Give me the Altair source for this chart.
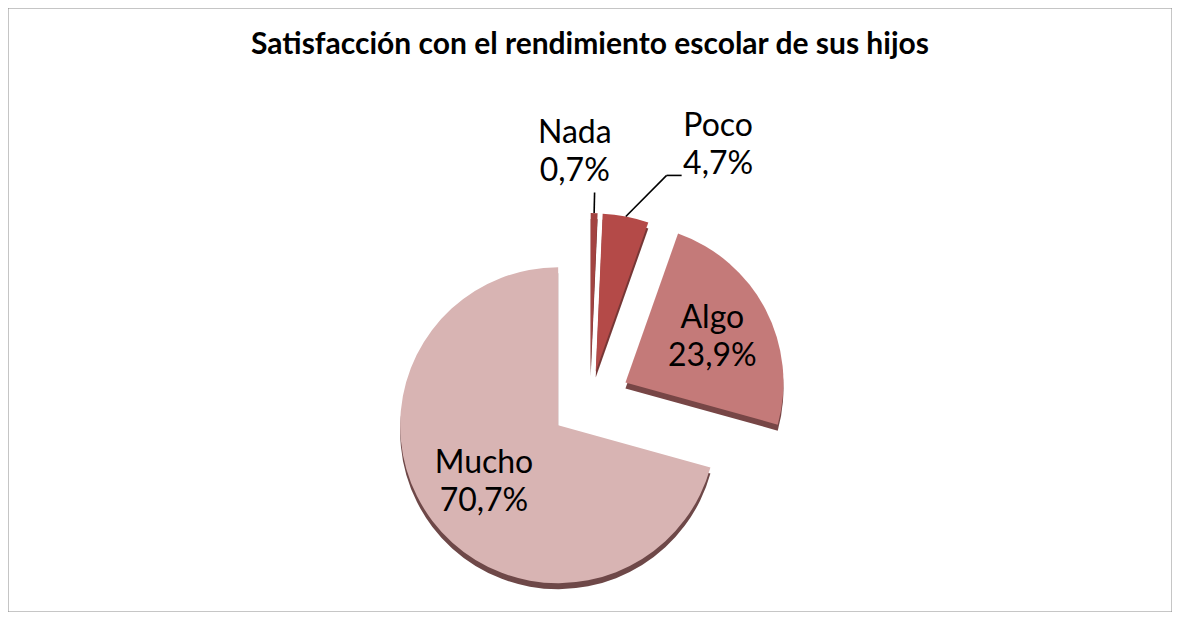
import altair as alt
import pandas as pd
import numpy as np

# ---- data ----
categories = ["Nada", "Poco", "Algo", "Mucho"]
values = [0.7, 4.7, 23.9, 70.7]
pct_labels = ["0,7%", "4,7%", "23,9%", "70,7%"]
title_text = "Satisfacción con el rendimiento escolar de sus hijos"

# ---- style / layout ----
colors = ["#A24341", "#B44A48", "#C47A79", "#D8B4B3"]
side_colors = ["#6A3131", "#763736", "#774646", "#6E4848"]
W, H = 1164, 544
PAD_TOP = 60
CX, CY = 582, 333
R = 158
explode = [30, 30, 40, 40]
depth = 6
label_r = [1.39, 1.63, 0.62, 0.59]
label_shift_deg = [-5.4, 17.4, 0.0, 0.0]
leader_r = [1.13, 1.32, None, None]
leader_shift_deg = [0.0, 8.9, 0.0, 0.0]
leader_tail = [0, 15, 0, 0]
FONT = "Lato"
LABEL_SIZE = 32
LINE_H = 38

# ---- geometry from data ----
vals = np.array(values, dtype=float)
frac = vals / vals.sum()
t1 = np.cumsum(frac) * 2 * np.pi
t0 = t1 - frac * 2 * np.pi
mid = (t0 + t1) / 2
ex = np.array(explode, dtype=float)
ax = CX + ex * np.sin(mid)
ay = CY - ex * np.cos(mid)

df = pd.DataFrame({
    "cat": categories,
    "t0": t0, "t1": t1,
    "ax": ax, "ay": ay,
    "ay_side": ay + depth,
    "fill": colors,
    "side": side_colors,
})

la = mid + np.radians(label_shift_deg)
lr = np.array(label_r) * R
labels = pd.DataFrame({
    "cat": categories,
    "txt": [f"{c}\n{p}" for c, p in zip(categories, pct_labels)],
    "lx": ax + lr * np.sin(la),
    "ly": ay - lr * np.cos(la),
})

lead_rows = []
for i in range(len(categories)):
    if leader_r[i] is None:
        continue
    sx = ax[i] + R * np.sin(mid[i])
    sy = ay[i] - R * np.cos(mid[i])
    a = mid[i] + np.radians(leader_shift_deg[i])
    ex_ = ax[i] + leader_r[i] * R * np.sin(a)
    ey_ = ay[i] - leader_r[i] * R * np.cos(a)
    lead_rows.append({"x": sx, "y": sy, "x2": ex_, "y2": ey_})
    if leader_tail[i]:
        lead_rows.append({"x": ex_, "y": ey_, "x2": ex_ + leader_tail[i], "y2": ey_})
leads = pd.DataFrame(lead_rows)

base = alt.Chart(df)

side = base.mark_arc(outerRadius=R).encode(
    x=alt.X("ax:Q", scale=None, axis=None),
    y=alt.Y("ay_side:Q", scale=None, axis=None),
    theta=alt.Theta("t0:Q", scale=None),
    theta2=alt.Theta2("t1:Q"),
    fill=alt.Fill("side:N", scale=None, legend=None),
)

top = base.mark_arc(outerRadius=R).encode(
    x=alt.X("ax:Q", scale=None, axis=None),
    y=alt.Y("ay:Q", scale=None, axis=None),
    theta=alt.Theta("t0:Q", scale=None),
    theta2=alt.Theta2("t1:Q"),
    fill=alt.Fill("fill:N", scale=None, legend=None),
)

leader = alt.Chart(leads).mark_rule(color="black", strokeWidth=1.6).encode(
    x=alt.X("x:Q", scale=None, axis=None),
    y=alt.Y("y:Q", scale=None, axis=None),
    x2="x2:Q",
    y2="y2:Q",
)

text = alt.Chart(labels).mark_text(
    font=FONT, fontSize=LABEL_SIZE, lineBreak="\n", lineHeight=LINE_H,
    align="center", baseline="middle", color="black", dy=-LINE_H / 2,
).encode(
    x=alt.X("lx:Q", scale=None, axis=None),
    y=alt.Y("ly:Q", scale=None, axis=None),
    text="txt:N",
)

border = alt.Chart(pd.DataFrame({"a": [0]})).mark_rect(
    fill="white", stroke="#8c8c8c", strokeWidth=1
).encode(
    x=alt.value(0), x2=alt.value(W),
    y=alt.value(-PAD_TOP), y2=alt.value(H),
)

title = alt.Chart(pd.DataFrame({"t": [title_text]})).mark_text(
    font=FONT, fontSize=30, fontWeight="bold", color="black",
    align="center", baseline="middle",
).encode(
    x=alt.value(W / 2), y=alt.value(-23), text="t:N",
)

chart = alt.layer(border, side, top, leader, text, title).properties(
    width=W, height=H,
    autosize="none",
    padding={"top": PAD_TOP, "left": 0, "right": 0, "bottom": 0},
).configure_view(stroke=None)

chart.save("out.html", embed_options={"renderer": "svg", "actions": False})
